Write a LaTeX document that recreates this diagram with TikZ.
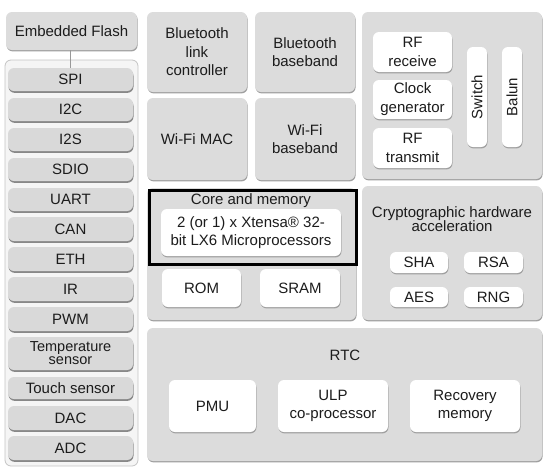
\documentclass[tikz,border=0pt]{standalone}
\usepackage{fontspec}
\setmainfont{Liberation Sans}
\usetikzlibrary{shadows}
\definecolor{panel}{HTML}{DCDCDC}
\definecolor{item}{HTML}{D9D9D9}
\definecolor{cont}{HTML}{F5F5F5}
\definecolor{edge}{HTML}{C4C4C4}
\definecolor{shad}{HTML}{A0A0A0}
\definecolor{txt}{HTML}{1C1C1C}
\newcommand\blk[7]{\node[#2, minimum width={(#5-#3)*1pt}, minimum height={(#6-#4)*1pt}] (#1) at ({(#3+#5)/2},{(#4+#6)/2}) {#7};}
\tikzset{
  base/.style={inner sep=0pt, outer sep=0pt, align=center, text=txt, font=\fontsize{15}{16.5}\selectfont},
  panelbox/.style={base, fill=panel, rounded corners=6pt, drop shadow={shadow xshift=0.6pt, shadow yshift=-1.4pt, opacity=1, fill=shad}},
  itembox/.style={base, fill=item, rounded corners=6pt, drop shadow={shadow xshift=0.5pt, shadow yshift=-1.8pt, opacity=1, fill=shad!85!black}},
  whitebox/.style={base, fill=white, rounded corners=6pt, drop shadow={shadow xshift=0.5pt, shadow yshift=-1.4pt, opacity=1, fill=shad}},
  label/.style={base},
  link/.style={draw=gray!80, line width=0.8pt},
}
\begin{document}
\begin{tikzpicture}[x=1pt, y=-1pt]
\useasboundingbox (0,0) rectangle (548,469);
% peripheral container
\draw[fill=cont, draw=edge, line width=0.8pt, rounded corners=6pt] (5,60) rectangle (138,466);
\blk{flash}{panelbox}{6}{12}{137}{50}{Embedded Flash}
\blk{spi}{itembox}{8}{68}{133}{91}{SPI}
\blk{iic}{itembox}{8}{98}{133}{121}{I2C}
\blk{iis}{itembox}{8}{128}{133}{151}{I2S}
\blk{sdio}{itembox}{8}{158}{133}{181}{SDIO}
\blk{uart}{itembox}{8}{188}{133}{211}{UART}
\blk{can}{itembox}{8}{217}{133}{241}{CAN}
\blk{eth}{itembox}{8}{247}{133}{271}{ETH}
\blk{ir}{itembox}{8}{277}{133}{301}{IR}
\blk{pwm}{itembox}{8}{307}{133}{331}{PWM}
\blk{temp}{itembox, font=\fontsize{14.5}{13}\selectfont}{8}{337}{133}{370}{Temperature\\sensor}
\blk{touch}{itembox}{8}{377}{133}{399}{Touch sensor}
\blk{dac}{itembox}{8}{406}{133}{430}{DAC}
\blk{adc}{itembox}{8}{436}{133}{460}{ADC}
\draw[link] (spi.north |- flash.south) -- (spi.north);
% radio blocks
\blk{btlc}{panelbox, font=\fontsize{15}{18.5}\selectfont}{147}{12}{247}{92}{Bluetooth\\link\\controller}
\blk{btbb}{panelbox, font=\fontsize{15}{18.5}\selectfont}{255}{12}{355}{92}{Bluetooth\\baseband}
\blk{wmac}{panelbox}{147}{98}{247}{180}{Wi-Fi MAC}
\blk{wbb}{panelbox, font=\fontsize{15}{18.5}\selectfont}{255}{98}{355}{180}{Wi-Fi\\baseband}
\blk{rf}{panelbox}{362}{12}{542}{179}{}
\blk{rfrx}{whitebox, font=\fontsize{15}{19}\selectfont}{373}{32}{452}{72}{RF\\receive}
\blk{clk}{whitebox, font=\fontsize{15}{19}\selectfont}{373}{80}{452}{119}{Clock\\generator}
\blk{rftx}{whitebox, font=\fontsize{15}{19}\selectfont}{373}{128}{452}{168}{RF\\transmit}
\blk{sw}{whitebox}{467}{47}{487}{147}{}
\node[label, rotate=90] at (sw.center) {Switch};
\blk{balun}{whitebox}{502}{47}{522}{147}{}
\node[label, rotate=90] at (balun.center) {Balun};
% core and memory
\blk{core}{panelbox}{147}{188}{356}{320}{}
\draw[line width=3pt] (149.5,190.5) rectangle (356,264);
\node[label] (corelbl) at (251,201) {Core and memory};
\blk{cpu}{whitebox, font=\fontsize{15}{18}\selectfont}{161}{209}{341}{256}{2 (or 1) x Xtensa® 32-\\bit LX6 Microprocessors}
\blk{rom}{whitebox}{162}{269}{241}{307}{ROM}
\blk{sram}{whitebox}{260}{269}{340}{307}{SRAM}
% crypto
\blk{crypto}{panelbox}{362}{186}{542}{320}{}
\node[label, font=\fontsize{15}{14.5}\selectfont] (cryptolbl) at (452,219) {Cryptographic hardware\\acceleration};
\blk{sha}{whitebox}{390}{252}{448}{273}{SHA}
\blk{rsa}{whitebox}{464}{252}{523}{273}{RSA}
\blk{aes}{whitebox}{390}{287}{448}{307}{AES}
\blk{rng}{whitebox}{464}{287}{523}{307}{RNG}
% RTC
\blk{rtc}{panelbox}{147}{328}{542}{461}{}
\node[label] (rtclbl) at (345,355) {RTC};
\blk{pmu}{whitebox}{169}{380}{256}{432}{PMU}
\blk{ulp}{whitebox, font=\fontsize{15}{18}\selectfont}{278}{380}{388}{432}{ULP\\co-processor}
\blk{rec}{whitebox, font=\fontsize{15}{18}\selectfont}{410}{380}{520}{432}{Recovery\\memory}
\end{tikzpicture}
\end{document}
